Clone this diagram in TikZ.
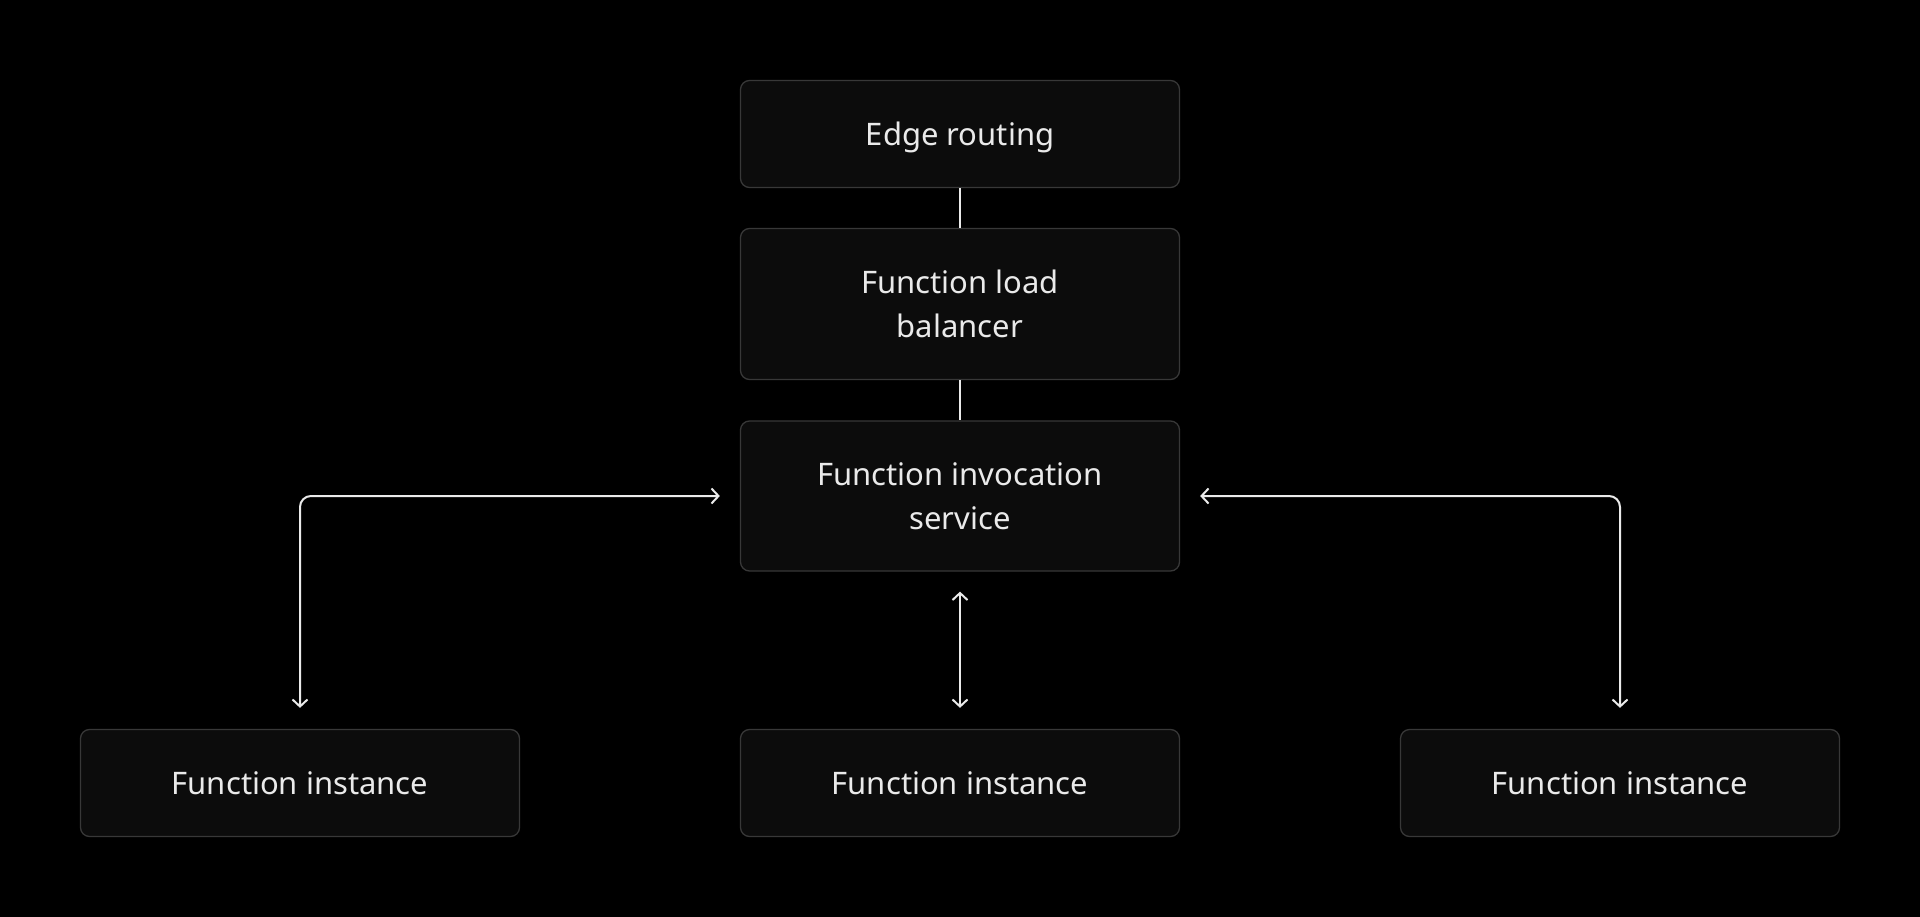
\documentclass[tikz,border=0pt]{standalone}
\usepackage{fontspec}
\setmainfont{Noto Sans}
\usetikzlibrary{arrows.meta}

\definecolor{boxfill}{HTML}{0C0C0C}
\definecolor{boxline}{HTML}{383838}
\definecolor{wire}{HTML}{EAEAEA}

\tikzset{
  block/.style={draw=boxline, fill=boxfill, line width=1.3pt, rounded corners=9pt,
    minimum width=439pt, align=center, text=wire,
    font=\fontsize{31}{44}\selectfont},
  link/.style={draw=wire, line width=2pt},
  flow/.style={link, {Straight Barb[length=7pt,width=15pt]}-{Straight Barb[length=7pt,width=15pt]},
    rounded corners=11pt, shorten <=20pt, shorten >=21pt}
}

\begin{document}
\begin{tikzpicture}[x=1pt,y=-1pt]

\fill[black] (0,0) rectangle (1920,917);
\useasboundingbox (0,0) rectangle (1920,917);

\node[block, minimum height=107pt, text depth=0pt] (edge) at (960,134) {Edge routing};
\node[block, minimum height=151pt] (lb) at (960,304) {Function load\\balancer};
\node[block, minimum height=150pt] (fis) at (960,496) {Function invocation\\service};

\node[block, minimum height=107pt] (inst1) at (300,783) {Function instance};
\node[block, minimum height=107pt] (inst2) at (960,783) {Function instance};
\node[block, minimum height=107pt] (inst3) at (1620,783) {Function instance};

\draw[link] (edge.south) -- (lb.north);
\draw[link] (lb.south) -- (fis.north);

\draw[flow] (fis.west) -| (inst1.north);
\draw[flow] (fis.south) -- (inst2.north);
\draw[flow] (fis.east) -| (inst3.north);

\end{tikzpicture}
\end{document}
